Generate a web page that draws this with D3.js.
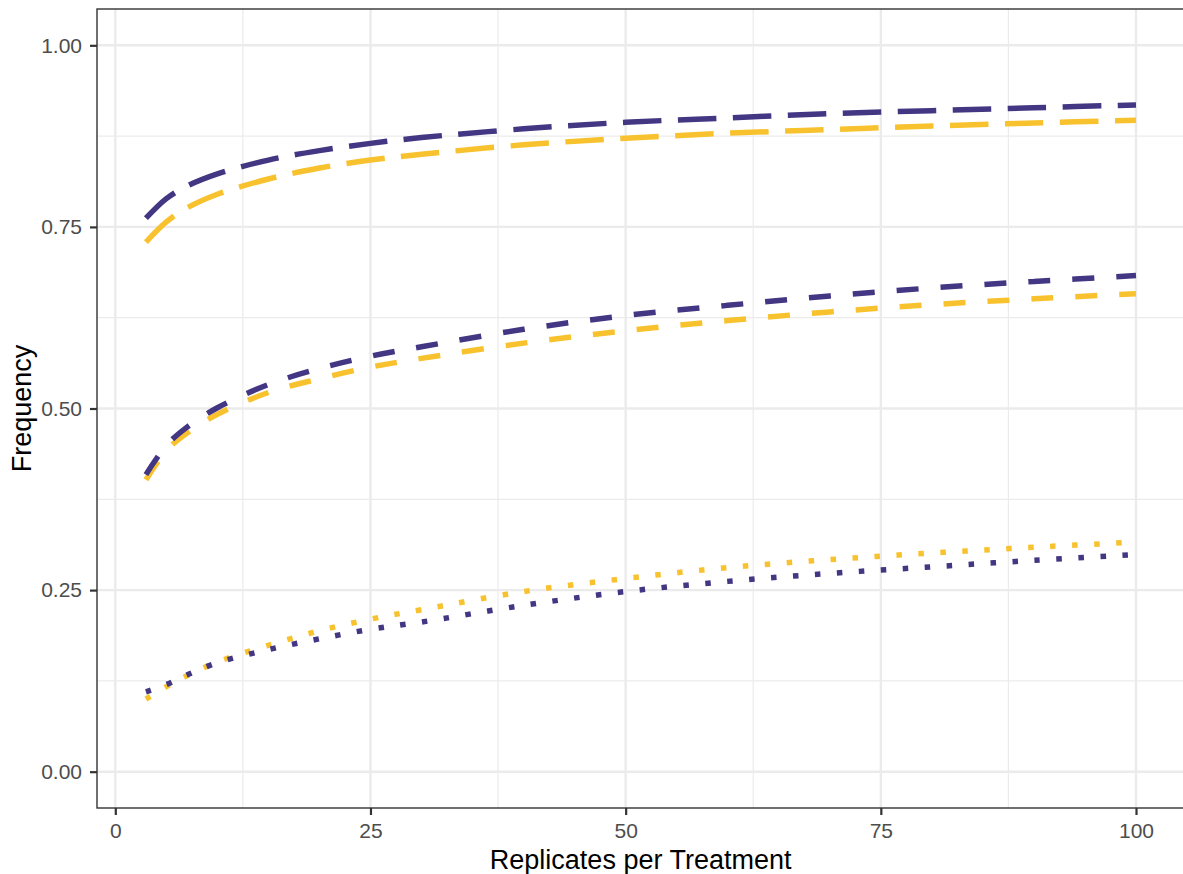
<html>
<head>
    <style>
        body { margin: 0; background: #fff; }
        text { font-family: "Liberation Sans", Arial, sans-serif; }
    </style>
    <script src="https://cdn.jsdelivr.net/npm/d3@7"></script>
</head>

<body>
    <svg id="container" width="1183" height="874"></svg>
</body>
<script>
    // replicates per treatment (x)
    let reps = [3, 5, 7, 10, 15, 20, 25, 30, 40, 50, 60, 70, 80, 90, 100]

    // upper pair (long dash)
    let highPurple = [.762, .789, .806, .823, .842, .855, .865, .873, .885, .894, .900, .906, .910, .914, .918]
    let highYellow = [.729, .757, .776, .795, .816, .831, .842, .850, .863, .872, .879, .884, .889, .893, .897]
    // middle pair (dashed)
    let midPurple = [.409, .449, .474, .501, .533, .555, .572, .585, .609, .628, .642, .655, .666, .675, .683]
    let midYellow = [.402, .442, .466, .492, .522, .541, .557, .569, .590, .607, .621, .633, .643, .651, .658]
    // lower pair (dotted)
    let lowPurple = [.110, .120, .133, .150, .168, .183, .196, .206, .229, .248, .262, .273, .282, .291, .299]
    let lowYellow = [.100, .117, .132, .151, .174, .194, .210, .223, .248, .266, .281, .292, .301, .309, .316]

    let xTicks = [0, 25, 50, 75, 100]
    let yTicks = [0, 0.25, 0.5, 0.75, 1]

    let purple = "#433682"
    let yellow = "#F8C22E"
    let lw = 5.5

    let svg = d3.select("#container")
    let pLeft = 97, pTop = 9, pRight = 1190, pBottom = 808

    let x = d3.scaleLinear().domain([0, 100]).range([115.3, 1136])
    let y = d3.scaleLinear().domain([-0.05, 1.05]).range([pBottom, pTop])

    // grid
    let grid = svg.append("g")
    let xMinor = [12.5, 37.5, 62.5, 87.5]
    let yMinor = [0.125, 0.375, 0.625, 0.875]
    grid.selectAll(".xminor").data(xMinor).enter().append("line")
        .attr("x1", d => x(d)).attr("x2", d => x(d))
        .attr("y1", pTop).attr("y2", pBottom)
        .attr("stroke", "#EBEBEB").attr("stroke-width", 1.2)
    grid.selectAll(".yminor").data(yMinor).enter().append("line")
        .attr("y1", d => y(d)).attr("y2", d => y(d))
        .attr("x1", pLeft).attr("x2", pRight)
        .attr("stroke", "#EBEBEB").attr("stroke-width", 1.2)
    grid.selectAll(".xmajor").data(xTicks).enter().append("line")
        .attr("x1", d => x(d)).attr("x2", d => x(d))
        .attr("y1", pTop).attr("y2", pBottom)
        .attr("stroke", "#EBEBEB").attr("stroke-width", 2.4)
    grid.selectAll(".ymajor").data(yTicks).enter().append("line")
        .attr("y1", d => y(d)).attr("y2", d => y(d))
        .attr("x1", pLeft).attr("x2", pRight)
        .attr("stroke", "#EBEBEB").attr("stroke-width", 2.4)

    // lines
    let line = d3.line()
        .x(d => x(d[0]))
        .y(d => y(d[1]))
        .curve(d3.curveCatmullRom.alpha(0.5))

    let series = [
        { v: highYellow, c: yellow, dash: [7 * lw, 3 * lw] },
        { v: highPurple, c: purple, dash: [7 * lw, 3 * lw] },
        { v: midYellow, c: yellow, dash: [4 * lw, 4 * lw] },
        { v: midPurple, c: purple, dash: [4 * lw, 4 * lw] },
        { v: lowYellow, c: yellow, dash: [1 * lw, 3 * lw] },
        { v: lowPurple, c: purple, dash: [1 * lw, 3 * lw] }
    ]

    svg.append("g").selectAll("path").data(series).enter().append("path")
        .attr("d", d => line(reps.map((r, i) => [r, d.v[i]])))
        .attr("fill", "none")
        .attr("stroke", d => d.c)
        .attr("stroke-width", lw)
        .attr("stroke-dasharray", d => d.dash.join(","))
        .attr("stroke-linecap", "butt")

    // border
    svg.append("rect")
        .attr("x", pLeft).attr("y", pTop)
        .attr("width", pRight - pLeft).attr("height", pBottom - pTop)
        .attr("fill", "none").attr("stroke", "#333333").attr("stroke-width", 1.4)

    // axes
    let xAxis = svg.append("g").attr("transform", "translate(0," + pBottom + ")")
        .call(d3.axisBottom(x).tickValues(xTicks).tickSize(7).tickPadding(8).tickFormat(d3.format("d")))
    let yAxis = svg.append("g").attr("transform", "translate(" + pLeft + ",0)")
        .call(d3.axisLeft(y).tickValues(yTicks).tickSize(7).tickPadding(8).tickFormat(d3.format(".2f")))

    for (let a of [xAxis, yAxis]) {
        a.select(".domain").remove()
        a.selectAll(".tick line").attr("stroke", "#333333").attr("stroke-width", 2.2)
        a.selectAll(".tick text").attr("fill", "#4D4D4D").style("font-size", "21px")
            .style("font-family", "'Liberation Sans', Arial, sans-serif")
    }

    svg.append("text")
        .attr("x", (x(0) + x(100)) / 2 + 15).attr("y", 869)
        .attr("text-anchor", "middle")
        .style("font-size", "27px")
        .text("Replicates per Treatment")

    svg.append("text")
        .attr("transform", "translate(31," + (pTop + pBottom) / 2 + ") rotate(-90)")
        .attr("text-anchor", "middle")
        .style("font-size", "27px")
        .text("Frequency")
</script>
</html>
